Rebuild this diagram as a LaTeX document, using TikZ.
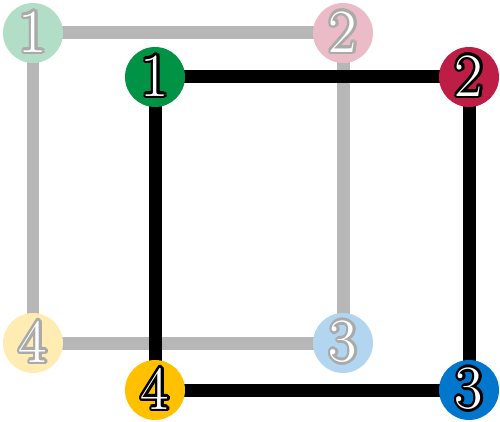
\documentclass[tikz,border=0pt]{standalone}
\usepackage{xcolor}
\usepackage{tikz}
\usepackage{contour}
\contourlength{1.5pt}

\definecolor{cgreen}{RGB}{0,146,69}
\definecolor{cred}{RGB}{190,30,69}
\definecolor{cblue}{RGB}{0,119,204}
\definecolor{cyellow}{RGB}{255,192,0}
\definecolor{cline}{RGB}{183,183,183}
\definecolor{cdigit}{RGB}{170,170,170}

\newcommand{\numtxt}[2]{\contour{#1}{\textcolor{white}{#2}}}

\begin{document}
\begin{tikzpicture}[x=0.02cm,y=-0.02cm,
  vertex/.style={circle,minimum size=1.2cm,inner sep=0pt,font=\fontsize{35}{35}\selectfont},
  edge/.style={line width=0.26cm}]
\useasboundingbox (0,0) rectangle (500,422);

% faded square
\coordinate (b1) at (33,33);
\coordinate (b2) at (343,33);
\coordinate (b3) at (343,343);
\coordinate (b4) at (33,343);
\draw[edge,cline] (b1) -- (b2) -- (b3) -- (b4) -- cycle;
\node[vertex,fill=cgreen!30]  (m1) at (b1) {\numtxt{cdigit}{1}};
\node[vertex,fill=cred!30]    (m2) at (b2) {\numtxt{cdigit}{2}};
\node[vertex,fill=cblue!30]   (m3) at (b3) {\numtxt{cdigit}{3}};
\node[vertex,fill=cyellow!30] (m4) at (b4) {\numtxt{cdigit}{4}};

% front square
\coordinate (f1) at (155,77);
\coordinate (f2) at (469,77);
\coordinate (f3) at (469,390);
\coordinate (f4) at (155,390);
\draw[edge,black] (f1) -- (f2) -- (f3) -- (f4) -- cycle;
\node[vertex,fill=cgreen]  (n1) at (f1) {\numtxt{black}{1}};
\node[vertex,fill=cred]    (n2) at (f2) {\numtxt{black}{2}};
\node[vertex,fill=cblue]   (n3) at (f3) {\numtxt{black}{3}};
\node[vertex,fill=cyellow] (n4) at (f4) {\numtxt{black}{4}};
\end{tikzpicture}
\end{document}
